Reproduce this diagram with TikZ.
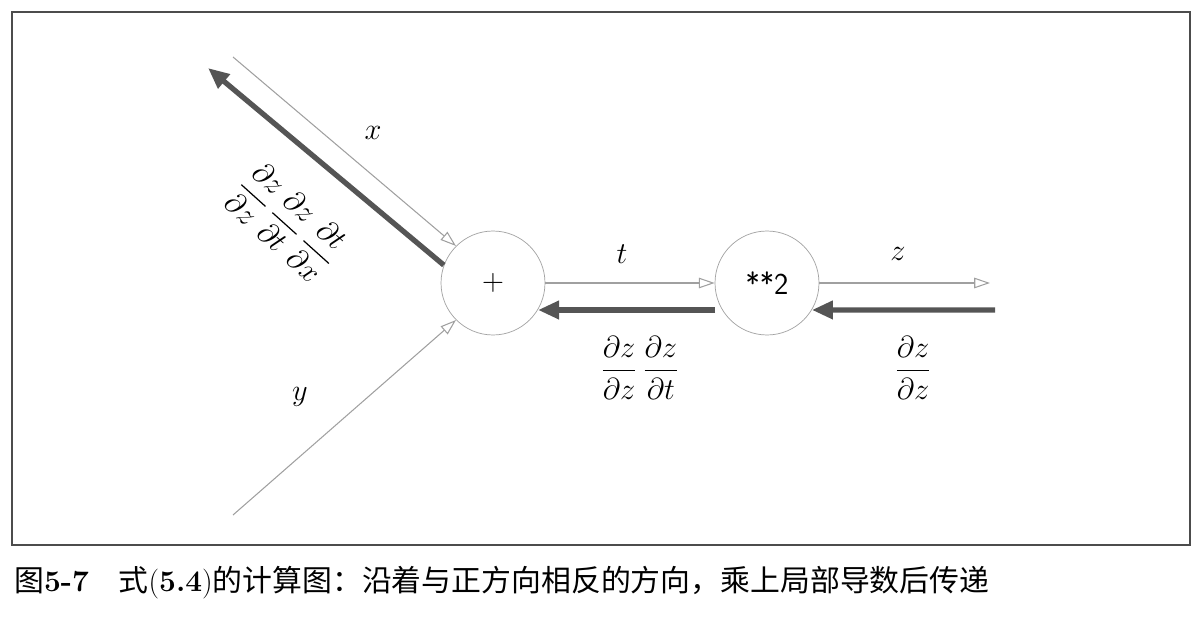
\documentclass[tikz,border=0pt]{standalone}
\usepackage{amsmath}
\usepackage{fontspec}
\newfontfamily\cjk{Noto Sans CJK SC}
\usetikzlibrary{arrows.meta, positioning}
\definecolor{fwdgray}{RGB}{160,160,160}
\definecolor{bwdgray}{RGB}{85,85,85}

\begin{document}
\begin{tikzpicture}[x=0.02cm, y=-0.02cm,
    opnode/.style={draw=fwdgray, circle, minimum size=2.08cm, inner sep=0pt},
    fwd/.style={draw=fwdgray, line width=0.6pt, -{Triangle[open, length=9pt, width=6pt]}},
    bwd/.style={draw=bwdgray, line width=3pt, -{Triangle[length=12pt, width=10pt]}},
    lbl/.style={font=\LARGE}]
\useasboundingbox (0,0) rectangle (1203,628);
\draw[line width=0.8pt, black!70] (12,12) rectangle (1190,545);

% Operation nodes
\node[opnode, font=\LARGE] (plus) at (493,283) {$+$};
\node[opnode, font=\LARGE\sffamily] (sq) at (767,283) {**2};

% Free ends
\coordinate (xin) at (233,57);
\coordinate (yin) at (233,515);
\coordinate (xout) at (208,68);
\coordinate (zout) at (990,283);
\coordinate (zin) at (995,310);
\coordinate (tin) at (715,310);
\coordinate (tout) at (538,310);

% Forward pass
\draw[fwd] (xin) -- (plus.135);
\draw[fwd] (yin) -- (plus.-135);
\draw[fwd] (plus.east) -- (sq.west);
\draw[fwd] (sq.east) -- (zout);

% Backward pass
\draw[bwd] (plus.160) -- (xout);
\draw[bwd] (tin) -- (tout);
\draw[bwd] (zin) -- (sq.-31);

% Labels
\node[lbl] (xl) at (373,133) {$x$};
\node[lbl] (yl) at (300,397) {$y$};
\node[lbl] (tl) at (622,254) {$t$};
\node[lbl] (zl) at (898,254) {$z$};
\node[lbl, rotate=-42] (gx) at (287,222) {$\dfrac{\partial z}{\partial z}\,\dfrac{\partial z}{\partial t}\,\dfrac{\partial t}{\partial x}$};
\node[lbl] (gt) at (640,368) {$\dfrac{\partial z}{\partial z}\,\dfrac{\partial z}{\partial t}$};
\node[lbl] (gz) at (913,368) {$\dfrac{\partial z}{\partial z}$};

% Caption
\node[anchor=west, font=\fontsize{17}{20}\selectfont] (cap) at (8,583) {{\cjk 图}\textbf{5-7}\quad{\cjk 式}(\textbf{5.4}){\cjk 的计算图：沿着与正方向相反的方向，乘上局部导数后传递}};
\end{tikzpicture}
\end{document}
